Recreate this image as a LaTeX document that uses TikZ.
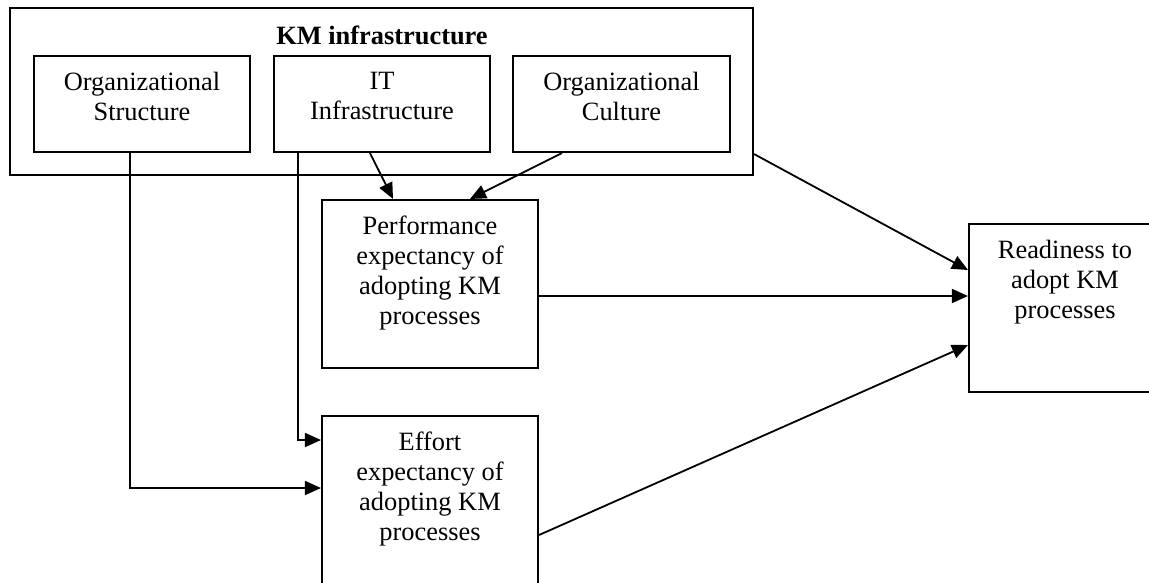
\documentclass[tikz,border=0pt]{standalone}
\usepackage{fontspec}
\setmainfont{Liberation Serif}
\usetikzlibrary{arrows.meta,calc}
\begin{document}
\begin{tikzpicture}[x=1pt,y=-1pt,
  frame/.style={draw, line width=2.1pt, rectangle, inner sep=0pt},
  lbl/.style={anchor=north, inner sep=0pt, align=center,
              font=\fontsize{26.4}{30}\selectfont},
  conn/.style={line width=1.8pt, -{Triangle[length=16pt,width=14pt]}}
]
\useasboundingbox (0,0) rectangle (1149,582);
\clip (0,0) rectangle (1149,582);

% KM infrastructure group
\node[frame, minimum width=743pt, minimum height=167pt] (km) at (381.5,91.5) {};
\node[anchor=base, inner sep=0pt, font=\fontsize{26.4}{30}\selectfont\bfseries] (kmt) at (382,44) {KM infrastructure};

\node[frame, minimum width=216pt, minimum height=96pt] (os) at (142,104) {};
\node[frame, minimum width=216pt, minimum height=96pt] (it) at (382,104) {};
\node[frame, minimum width=217pt, minimum height=96pt] (oc) at (621.5,104) {};
\node[lbl] (ost) at ($(os.north)+(0,17)$) {Organizational\\Structure};
\node[lbl] (itt) at ($(it.north)+(0,17)$) {IT\\Infrastructure};
\node[lbl] (oct) at ($(oc.north)+(0,17)$) {Organizational\\Culture};

% Expectancy constructs
\node[frame, minimum width=216pt, minimum height=168pt] (perf) at (430,284) {};
\node[frame, minimum width=216pt, minimum height=168pt] (eff) at (430,500) {};
\node[lbl] (perft) at ($(perf.north)+(0,17)$) {Performance\\expectancy of\\adopting KM\\processes};
\node[lbl] (efft) at ($(eff.north)+(0,17)$) {Effort\\expectancy of\\adopting KM\\processes};

% Outcome
\node[frame, minimum width=192pt, minimum height=168pt] (rd) at (1065,308) {};
\node[lbl] (rdt) at ($(rd.north)+(0,17)$) {Readiness to\\adopt KM\\processes};

% Connectors
\draw[conn] ($(it.south)+(-12,0)$) -- ($(perf.north)+(-37,0)$);
\draw[conn] ($(oc.south)+(-59.5,0)$) -- ($(perf.north)+(40,0)$);
\draw[conn] ($(km.south east)+(0,-22)$) -- ($(rd.west)+(0,-38)$);
\draw[conn] ($(perf.east)+(0,12)$) -- ($(rd.west)+(0,-12)$);
\draw[conn] ($(eff.east)+(0,35)$) -- ($(rd.west)+(0,37)$);
\draw[conn] ($(os.south)+(-12,0)$) |- ($(eff.west)+(0,-12)$);
\draw[conn] ($(it.south)+(-84,0)$) |- ($(eff.west)+(0,-60)$);
\end{tikzpicture}
\end{document}
